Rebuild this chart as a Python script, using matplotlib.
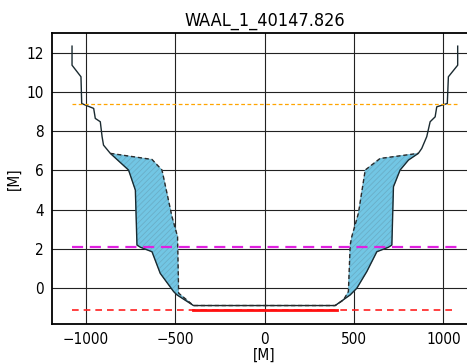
import matplotlib
matplotlib.use("Agg")
import matplotlib.pyplot as plt
import numpy as np

plt.rcParams['font.family'] = ['DejaVu Sans']
plt.rcParams['font.stretch'] = 'condensed'
plt.rcParams['hatch.color'] = '#4aa6c8'
plt.rcParams['hatch.linewidth'] = 0.6

title = "WAAL_1_40147.826"

# Solid profile (outer bank line)
bank_x = [-1076, -1076, -1026, -1022, -1002, -955, -946, -918, -908, -900, -862,
          -760, -722, -713, -694, -629, -583, -508, -489, -397,
          395, 479, 516, 572, 628, 693, 712, 721, 758, 805, 860,
          879, 907, 926, 954, 963, 1022, 1028, 1080, 1080]
bank_y = [12.33, 11.36, 10.77, 9.41, 9.33, 9.16, 8.65, 8.48, 7.72, 7.29, 6.87,
          6.02, 5.0, 2.2, 2.09, 1.86, 0.76, -0.17, -0.34, -0.88,
          -0.88, -0.34, 0.0, 0.85, 1.86, 2.09, 2.2, 5.17, 6.02, 6.53, 6.87,
          7.12, 7.72, 8.48, 8.73, 9.24, 9.41, 10.77, 11.36, 12.33]

# Dashed profile (inner line)
design_x = [-862, -629, -573, -517, -486, -480, -397,
            395, 441, 469, 479, 488, 525, 563, 646, 860]
design_y = [6.87, 6.56, 6.02, 3.64, 2.63, -0.25, -0.88,
            -0.88, -0.6, -0.17, 2.2, 2.63, 3.82, 6.02, 6.61, 6.87]

# Horizontal levels
level_x = [-1076, 1075]
level_high = 9.36
level_mid = 2.12
level_low = -1.12
low_solid_x = [-397, 404]

fig = plt.figure(figsize=(4.67, 3.63), dpi=100)
ax = fig.add_axes([52/467, 39/363, 425/467, 291/363])

bx = np.array(bank_x); by = np.array(bank_y)
dx = np.array(design_x); dy = np.array(design_y)

# fill between the two profiles on each side
for side in (-1, 1):
    mb = (bx * side >= 397) & (np.abs(by) < 7) & (np.abs(bx) <= 862)
    md = (dx * side >= 395)
    px = np.concatenate([bx[mb], dx[md][::-1]])
    py = np.concatenate([by[mb], dy[md][::-1]])
    ax.fill(px, py, facecolor='#72c6e4', edgecolor='#6aaec8', hatch='//////',
            linewidth=0.5, zorder=2)

ax.plot(bank_x, bank_y, color='#1a2a30', lw=1.0, zorder=3)
ax.plot(design_x, design_y, color='#2a2a2a', lw=1.0, ls=(0, (3, 2)), zorder=3)

ax.plot(level_x, [level_high]*2, color='#ffa500', lw=0.9, ls=(0, (3, 2)), zorder=4)
ax.plot(level_x, [level_mid]*2, color='#e020e0', lw=1.6, ls=(0, (5, 3)), zorder=4)
ax.plot(level_x, [level_low]*2, color='#ff2020', lw=1.2, ls=(0, (4, 3)), zorder=4)
ax.plot(low_solid_x, [level_low]*2, color='#ff1010', lw=2.0, zorder=4)

ax.set_xlim(-1188, 1188)
ax.set_ylim(-1.82, 13.0)
ax.set_xticks([-1000, -500, 0, 500, 1000])
ax.set_yticks([0, 2, 4, 6, 8, 10, 12])
ax.grid(True, color='#222222', lw=0.8, zorder=0)
ax.set_axisbelow(True)
ax.tick_params(length=0, pad=6, labelsize=11)
ax.spines['right'].set_visible(False)
for s in ('top', 'left', 'bottom'):
    ax.spines[s].set_linewidth(1.3)
ax.set_title(title, fontsize=13, pad=5)
ax.set_xlabel("[M]", fontsize=11, labelpad=0.5)
ax.set_ylabel("[M]", fontsize=11, labelpad=3)

fig.savefig("out.png", dpi=100)
